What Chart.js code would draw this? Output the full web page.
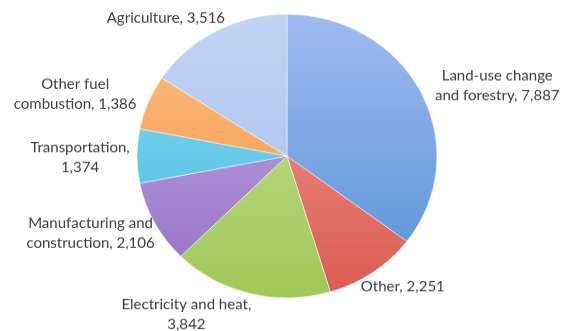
<!DOCTYPE html>
<html>
<head>
<meta charset="utf-8">
<script src="https://cdn.jsdelivr.net/npm/chart.js@4.4.1/dist/chart.umd.min.js"></script>
<style>
  html, body { margin: 0; padding: 0; background: #fff; overflow: hidden; }
  #wrap { width: 566px; height: 350px; transform: scaleY(0.9457); transform-origin: 0 0; }
</style>
</head>
<body>
<div id="wrap"><canvas id="emissionsChart" width="566" height="350"></canvas></div>
<script>
const sources = ["Land-use change and forestry", "Other", "Electricity and heat", "Manufacturing and construction", "Transportation", "Other fuel combustion", "Agriculture"];
const emissions = [7887, 2251, 3842, 2106, 1374, 1386, 3516];

// how many words go on the first line of each label
const firstLineWords = [2, 99, 3, 2, 1, 2, 99];
// label centre offset from the rim point at each slice's mid angle
const labelShift = [[76, -7], [30, 15], [-64, 22], [-64, 11], [-57, 2], [-73, -9], [-50, -14]];

const sliceLight = ["#a0bbef", "#f19f98", "#cce59c", "#c6aee2", "#8edff4", "#fcc085", "#c2d4f4"];
const sliceDark = ["#5590d8", "#dc5a50", "#9fc857", "#9270c6", "#3fb6dc", "#f7923a", "#a0bbec"];

function labelLines(i) {
    const text = sources[i] + ", " + emissions[i].toLocaleString("en-US");
    const words = text.split(" ");
    const n = firstLineWords[i];
    if (n >= words.length) return [text];
    return [words.slice(0, n).join(" "), words.slice(n).join(" ")];
}

const pieLabels = {
    id: "pieLabels",
    afterDatasetsDraw(chart) {
        const ctx = chart.ctx;
        const meta = chart.getDatasetMeta(0);
        ctx.save();
        ctx.font = "15px Lato";
        ctx.fillStyle = "#3c3c3c";
        ctx.textAlign = "center";
        ctx.textBaseline = "middle";
        meta.data.forEach((arc, i) => {
            const p = arc.getProps(["x", "y", "startAngle", "endAngle", "outerRadius"], true);
            const mid = (p.startAngle + p.endAngle) / 2;
            const cx = p.x + Math.cos(mid) * p.outerRadius + labelShift[i][0];
            const cy = p.y + Math.sin(mid) * p.outerRadius + labelShift[i][1];
            const lines = labelLines(i);
            const lh = 21;
            lines.forEach((line, k) => {
                ctx.fillText(line, cx, cy + (k - (lines.length - 1) / 2) * lh);
            });
        });
        ctx.restore();
    }
};

const ctx = document.getElementById("emissionsChart").getContext("2d");
new Chart(ctx, {
    type: "pie",
    data: {
        labels: sources,
        datasets: [{
            data: emissions,
            backgroundColor: function (c) {
                const area = c.chart.chartArea;
                if (!area) return sliceDark[c.dataIndex];
                const g = c.chart.ctx.createLinearGradient(0, area.top, 0, area.bottom);
                g.addColorStop(0, sliceLight[c.dataIndex]);
                g.addColorStop(1, sliceDark[c.dataIndex]);
                return g;
            },
            borderColor: "rgba(255,255,255,0.5)",
            borderWidth: 1
        }]
    },
    options: {
        responsive: false,
        animation: false,
        radius: 150,
        layout: { padding: { top: 15, bottom: 35, left: 137, right: 129 } },
        plugins: {
            legend: { display: false },
            tooltip: { enabled: false }
        }
    },
    plugins: [pieLabels]
});
</script>
</body>
</html>
